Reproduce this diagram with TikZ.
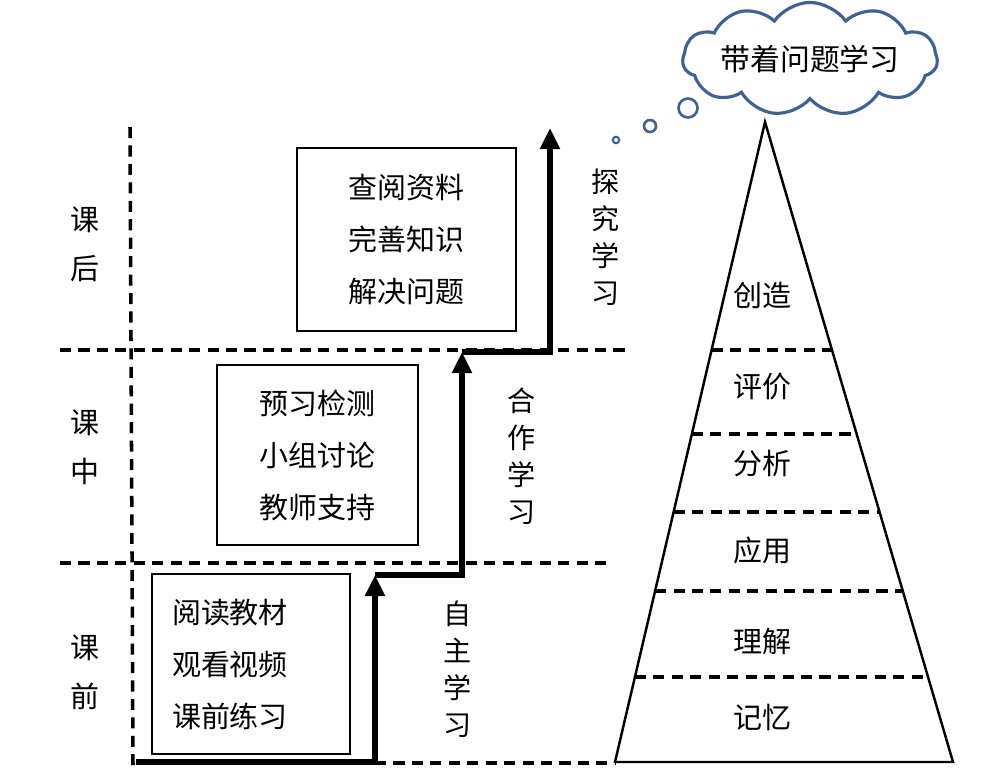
\documentclass[tikz,border=0pt]{standalone}
\usepackage{fontspec}
\setmainfont{Noto Sans CJK SC}
\usetikzlibrary{arrows.meta,shapes.symbols,calc}

\definecolor{cloudblue}{RGB}{65,98,143}

\tikzset{
	grid/.style={line width=2pt, dash pattern=on 6.3pt off 4.2pt},
	stair/.style={line width=3.4pt, -{Triangle[length=0.42cm,width=0.38cm]}},
	textbox/.style={draw, line width=0.8pt, inner sep=0pt, minimum height=3.6cm, align=center, font=\fontsize{16.5pt}{29.6pt}\selectfont},
	phase/.style={align=center, font=\fontsize{16.5pt}{28pt}\selectfont},
	mode/.style={align=center, font=\fontsize{16pt}{21pt}\selectfont},
	level/.style={font=\fontsize{16.5pt}{20pt}\selectfont},
	bubble/.style={circle, draw=cloudblue, line width=1.5pt, inner sep=0pt, fill=white}
}

\begin{document}
\begin{tikzpicture}[x=0.02cm,y=-0.02cm]
	\useasboundingbox (0,0) rectangle (1000,775);

	% stages
	\draw[grid] (130,127) -- (133,765);
	\draw[grid] (60,350) -- (628,350);
	\draw[grid] (60,563) -- (607,563);
	\draw[grid] (375,763) -- (615,763);

	\node[phase] (post) at (85,244) {课\\后};
	\node[phase] (mid) at (85,447) {课\\中};
	\node[phase] (pre) at (85,672) {课\\前};

	% tasks
	\node[textbox, text width=3.16cm, align=left, inner xsep=0.4cm] (box1) at (251,664) {阅读教材\\观看视频\\课前练习};
	\node[textbox, minimum width=4.02cm] (box2) at (317.5,455) {预习检测\\小组讨论\\教师支持};
	\node[textbox, minimum width=4.38cm, minimum height=3.66cm] (box3) at (406.5,239.5) {查阅资料\\完善知识\\解决问题};

	% steps
	\coordinate (s0) at (136,762);
	\coordinate (t1) at (375,575);
	\coordinate (t2) at (462,352);
	\coordinate (t3) at (550,128);
	\draw[stair] (s0) -| (t1);
	\draw[stair] (t1) -| (t2);
	\draw[stair] (t2) -| (t3);

	\node[mode] (self) at (458,669) {自\\主\\学\\习};
	\node[mode] (coop) at (522,456) {合\\作\\学\\习};
	\node[mode] (inq) at (606,237) {探\\究\\学\\习};

	% pyramid
	\coordinate (apex) at (765,122);
	\coordinate (bl) at (615,762);
	\coordinate (br) at (953,762);
	\draw[line width=1.4pt] (apex) -- (bl) -- (br) -- cycle;
	\foreach \t in {0.356,0.4875,0.609,0.733,0.867}
		\draw[grid] ($(apex)!\t!(bl)$) -- ($(apex)!\t!(br)$);

	\node[level] (create) at (762,295) {创造};
	\node[level] (evaluate) at (762,387) {评价};
	\node[level] (analyse) at (762,464) {分析};
	\node[level] (apply) at (762,550) {应用};
	\node[level] (understand) at (762,641) {理解};
	\node[level] (remember) at (762,717) {记忆};

	% thought
	\node[cloud, cloud puffs=11, cloud puff arc=110, aspect=3.2, inner sep=0pt, draw=cloudblue, line width=1.8pt, font=\fontsize{17pt}{20pt}\selectfont] (thought) at (810,59) {带着问题学习};
	\node[bubble, minimum size=0.38cm] (b1) at (688,108) {};
	\node[bubble, minimum size=0.24cm] (b2) at (650,126) {};
	\node[bubble, minimum size=0.13cm, line width=1.2pt] (b3) at (616,140) {};
\end{tikzpicture}
\end{document}
